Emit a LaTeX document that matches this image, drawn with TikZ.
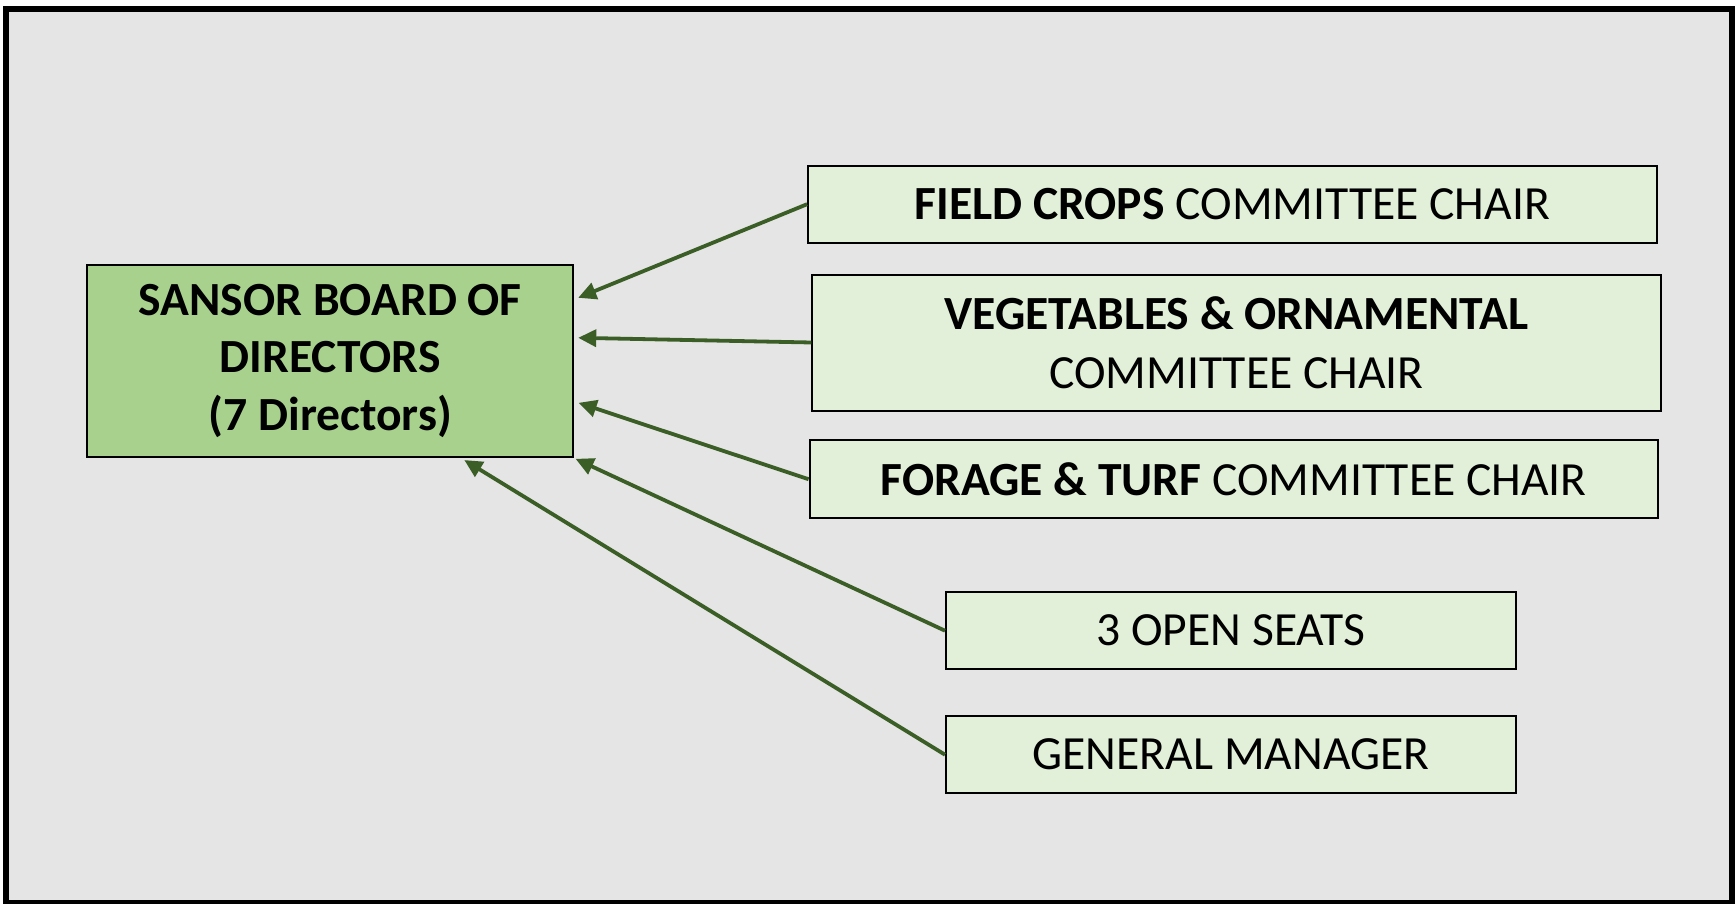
\documentclass[tikz,border=0pt]{standalone}
\usepackage{fontspec}
\setmainfont{Carlito}
\usepackage{tikz}
\usetikzlibrary{arrows.meta}
\definecolor{bggray}{HTML}{E5E5E5}
\definecolor{boardgreen}{HTML}{A9D18E}
\definecolor{chairgreen}{HTML}{E2F0D9}
\definecolor{linkgreen}{HTML}{3B5E27}

\begin{document}
\begin{tikzpicture}[x=0.5pt, y=-0.5pt,
  board/.style={draw, line width=1pt, fill=boardgreen, minimum width=242.9pt, minimum height=96.25pt, align=center, inner sep=0pt, font=\fontsize{23.8}{28.8}\selectfont\bfseries},
  chair/.style={draw, line width=1pt, fill=chairgreen, minimum width=424.2pt, minimum height=38.4pt, align=center, inner sep=0pt, font=\fontsize{23.8}{29.3}\selectfont},
  seat/.style={chair, minimum width=285pt},
  link/.style={draw=linkgreen, line width=1.9pt, -{Triangle[length=9pt,width=8.5pt]}}]
      \useasboundingbox (0,0) rectangle (1735,904);
      \draw[line width=3pt, fill=bggray] (6,9) rectangle (1731.5,903);
      \node at (330.3,360.8)[board] (board){SANSOR BOARD OF\\DIRECTORS\\(7 Directors)};
      \node at (1232.3,204.2)[chair] (field){\textbf{FIELD CROPS} COMMITTEE CHAIR};
      \node at (1236.5,342.5)[chair, minimum height=68pt] (veg){\textbf{VEGETABLES \& ORNAMENTAL}\\COMMITTEE CHAIR};
      \node at (1233.8,479.2)[chair, minimum height=38.75pt] (forage){\textbf{FORAGE \& TURF} COMMITTEE CHAIR};
      \node at (1231,630.7)[seat] (open){3 OPEN SEATS};
      \node at (1231,754.7)[seat] (gm){GENERAL MANAGER};
      \draw[link] (field.west) -- ([xshift=2pt,yshift=31.5pt]board.east);
      \draw[link] (veg.west) -- ([xshift=2pt,yshift=11.5pt]board.east);
      \draw[link] (forage.west) -- ([xshift=2.2pt,yshift=-21pt]board.east);
      \draw[link] (open.west) -- ([xshift=0.7pt,yshift=-0.4pt]board.south east);
      \draw[link] (gm.west) -- ([xshift=67pt,yshift=-1pt]board.south);
\end{tikzpicture}
\end{document}
